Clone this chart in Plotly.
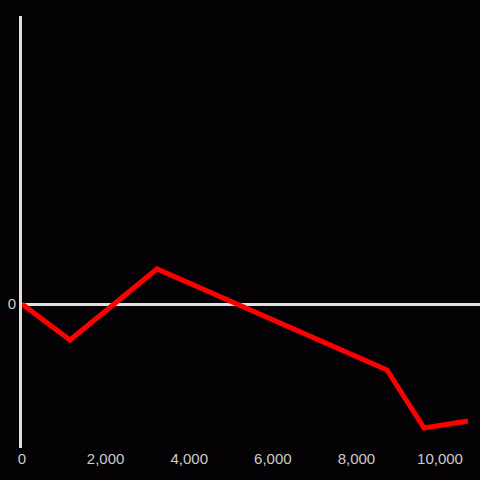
import plotly.graph_objects as go

x_vals = [0, 1148, 3230, 8732, 9617, 10670]
y_vals = [0, -360, 350, -660, -1240, -1170]
x_ticks = [0, 2000, 4000, 6000, 8000, 10000]
x_tick_text = ["0", "2,000", "4,000", "6,000", "8,000", "10,000"]
y_ticks = [0]
y_tick_text = ["0"]

bg = "#040205"
axis_col = "#e0e0e0"

fig = go.Figure(go.Scatter(
    x=x_vals, y=y_vals, mode="lines",
    line=dict(color="#ff0000", width=5),
    hoverinfo="skip",
))

fig.update_layout(
    width=480, height=480,
    margin=dict(l=22, r=0, t=16, b=32),
    paper_bgcolor=bg, plot_bgcolor=bg,
    showlegend=False,
    font=dict(family="Liberation Sans", size=15, color="#cccccc"),
    xaxis=dict(range=[0, 10957], showgrid=False, zeroline=False,
               tickvals=x_ticks, ticktext=x_tick_text, ticks="",
               showline=False),
    yaxis=dict(range=[-1440, 2880], showgrid=False,
               zeroline=True, zerolinecolor=axis_col, zerolinewidth=3,
               tickvals=y_ticks, ticktext=y_tick_text, ticks="",
               showline=True, linecolor=axis_col, linewidth=3),
)

fig.write_html("out.html", config={"displayModeBar": False},
               post_script="document.body.style.margin='0';document.body.style.background='#040205';")
